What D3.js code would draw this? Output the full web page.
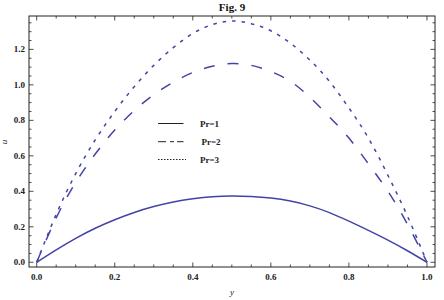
<!DOCTYPE html>
<html><head><meta charset="utf-8">
<script src="https://cdn.jsdelivr.net/npm/d3@7"></script>
<style>body{margin:0;background:#fff}svg{display:block}text{font-family:"Liberation Serif","Times New Roman",serif;}</style>
</head><body><svg id="c" width="444" height="300"></svg>
<script>
const yPos = [0,0.05,0.1,0.15,0.2,0.25,0.3,0.35,0.4,0.45,0.5,0.55,0.6,0.65,0.7,0.75,0.8,0.85,0.9,0.95,1.0];
const pr1 = [0,0.07,0.135,0.192,0.24,0.281,0.314,0.34,0.358,0.37,0.374,0.371,0.362,0.345,0.318,0.28,0.232,0.18,0.125,0.065,0];
const pr2 = [0,0.25,0.45,0.61,0.745,0.855,0.945,1.015,1.07,1.105,1.12,1.11,1.075,1.02,0.93,0.82,0.70,0.555,0.40,0.215,0];
const pr3 = [0,0.27,0.5,0.69,0.85,0.99,1.11,1.21,1.29,1.34,1.36,1.345,1.305,1.235,1.14,1.02,0.87,0.70,0.49,0.26,0];
const seriesNames = ["Pr=1","Pr=2","Pr=3"];
const xTicks = [0,0.2,0.4,0.6,0.8,1.0];
const yTicks = [0,0.2,0.4,0.6,0.8,1.0,1.2];

const svg = d3.select("#c");
const color = "#4343a6";
const L=29,T=16,R=435,B=267;
const x = d3.scaleLinear().domain([-0.0197,1.0206]).range([L,R]);
const y = d3.scaleLinear().domain([-0.0266,1.3882]).range([B,T]);

const minorX = d3.range(0,1.0001,0.05);
const minorY = d3.range(0,1.3501,0.05);
const g = svg.append("g").attr("stroke","#222").attr("stroke-width",0.8);
function isMajor(v){return Math.abs(v*5-Math.round(v*5))<1e-6;}
minorX.forEach(v=>{
  const len = isMajor(v)?4.5:2.5;
  g.append("line").attr("x1",x(v)).attr("x2",x(v)).attr("y1",B).attr("y2",B-len);
  g.append("line").attr("x1",x(v)).attr("x2",x(v)).attr("y1",T).attr("y2",T+len);
});
minorY.forEach(v=>{
  const len = isMajor(v)?4.5:2.5;
  g.append("line").attr("y1",y(v)).attr("y2",y(v)).attr("x1",L).attr("x2",L+len);
  g.append("line").attr("y1",y(v)).attr("y2",y(v)).attr("x1",R).attr("x2",R-len);
});
svg.append("rect").attr("x",L).attr("y",T).attr("width",R-L).attr("height",B-T)
  .attr("fill","none").attr("stroke","#222").attr("stroke-width",1);

svg.append("g").selectAll("text").data(xTicks).join("text")
  .attr("x",d=>x(d)).attr("y",280).attr("text-anchor","middle")
  .attr("font-size",9).attr("font-weight","bold").attr("fill","#222")
  .text(d=>d3.format(".1f")(d));
svg.append("g").selectAll("text").data(yTicks).join("text")
  .attr("x",25).attr("y",d=>y(d)+3).attr("text-anchor","end")
  .attr("font-size",9).attr("font-weight","bold").attr("fill","#222")
  .text(d=>d3.format(".1f")(d));

svg.append("text").attr("x",232).attr("y",295).attr("text-anchor","middle")
  .attr("font-size",9).attr("font-style","italic").attr("fill","#222").text("y");
svg.append("text").attr("transform","translate(7,142) rotate(-90)").attr("text-anchor","middle")
  .attr("font-size",9).attr("font-style","italic").attr("fill","#222").text("u");
svg.append("text").attr("x",232).attr("y",11).attr("text-anchor","middle")
  .attr("font-size",11).attr("font-weight","bold").attr("fill","#111").text("Fig. 9");

const line = d3.line().x(d=>x(d[0])).y(d=>y(d[1])).curve(d3.curveNatural);
const dashes = [null,"11,13","3.5,6"];
[pr1,pr2,pr3].forEach((s,i)=>{
  svg.append("path").datum(yPos.map((v,j)=>[v,s[j]]))
    .attr("d",line).attr("fill","none").attr("stroke",color).attr("stroke-width",1.5)
    .attr("stroke-dasharray",dashes[i]);
});

const legY = [123.5,141.7,159.5];
const legDash = [null,"8,4,4,3","1.5,1.5"];
const legX2 = [183.5,183.5,186];
const legTX = [200,201.5,200];
seriesNames.forEach((n,i)=>{
  svg.append("line").attr("x1",158).attr("x2",legX2[i]).attr("y1",legY[i]).attr("y2",legY[i])
    .attr("stroke","#222").attr("stroke-width",1).attr("stroke-dasharray",legDash[i]);
  svg.append("text").attr("x",legTX[i]).attr("y",legY[i]+3).attr("font-size",9)
    .attr("font-weight","bold").attr("fill","#222").text(n);
});
</script></body></html>
